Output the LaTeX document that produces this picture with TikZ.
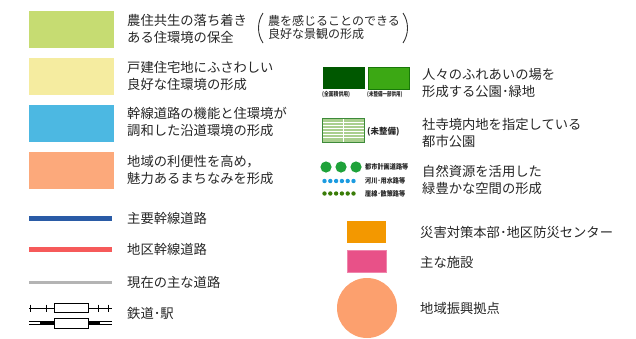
\documentclass[tikz,border=0pt]{standalone}
\usepackage{fontspec}
\setmainfont{Noto Sans CJK JP}
\usetikzlibrary{positioning}

% --- colours of the legend ---
\definecolor{farmgreen}{HTML}{C6DC72}
\definecolor{houseyellow}{HTML}{F5ECA0}
\definecolor{roadsideblue}{HTML}{4CB8E2}
\definecolor{townorange}{HTML}{FCA97B}
\definecolor{mainblue}{HTML}{2A5BA6}
\definecolor{districtred}{HTML}{F65A5A}
\definecolor{roadgray}{HTML}{B4B4B4}
\definecolor{parkdark}{HTML}{005800}
\definecolor{parklight}{HTML}{3CA814}
\definecolor{shrinegreen}{HTML}{A9CF8E}
\definecolor{shrineedge}{HTML}{3D8A3A}
\definecolor{dotgreen}{HTML}{1FA23A}
\definecolor{dotblue}{HTML}{1C9BE0}
\definecolor{dotolive}{HTML}{3A7C08}
\definecolor{hqorange}{HTML}{F39800}
\definecolor{facpink}{HTML}{E85188}
\definecolor{hubsalmon}{HTML}{FCA06E}

\tikzset{
  swatch/.style={draw=none, minimum width=85pt, minimum height=37pt, inner sep=0pt},
  smallbox/.style={draw=none, minimum width=39pt, minimum height=22pt, inner sep=0pt},
  legtext/.style={anchor=west, align=left, inner sep=0pt, text=black!85,
    font=\fontsize{13.3}{17}\selectfont},
  notetext/.style={anchor=west, inner sep=0pt, text=black!85,
    font=\fontsize{6}{7}\selectfont\bfseries},
  road/.style={line width=#1, line cap=butt},
  station/.style={draw=black, fill=white, line width=0.8pt,
    minimum width=34pt, minimum height=9pt, inner sep=0pt}
}

\begin{document}
\begin{tikzpicture}[x=1pt, y=-1pt]
\useasboundingbox (0,0) rectangle (636,338);

% ------------------ LEFT: land use areas ------------------
\node[swatch, fill=farmgreen]    (farm)     at (71.5,29.5)  {};
\node[swatch, fill=houseyellow]  (house)    at (71.5,76.5)  {};
\node[swatch, fill=roadsideblue] (roadside) at (71.5,123)   {};
\node[swatch, fill=townorange]   (town)     at (71.5,170.5) {};

\node[legtext] (farmtxt)     at (127,28.5)  {農住共生の落ち着き\\ある住環境の保全};
\node[legtext] (housetxt)    at (127,75.5)  {戸建住宅地にふさわしい\\良好な住環境の形成};
\node[legtext] (roadsidetxt) at (127,122)   {幹線道路の機能と住環境が\\調和した沿道環境の形成};
\node[legtext] (towntxt)     at (127,169.5) {地域の利便性を高め，\\魅力あるまちなみを形成};

% note in brackets beside the first area
\node[legtext, font=\fontsize{12}{13}\selectfont] (farmnote) at (268,27.5)
  {農を感じることのできる\\良好な景観の形成};
\draw[black!80, line width=0.9pt] (263,13) .. controls (257,22) and (257,34) .. (263,43);
\draw[black!80, line width=0.9pt] (403,13) .. controls (409,22) and (409,34) .. (403,43);

% ------------------ LEFT: roads and railway ------------------
\coordinate (mainA) at (29,218);  \coordinate (mainB) at (112,218);
\coordinate (distA) at (29,249);  \coordinate (distB) at (112,249);
\coordinate (grayA) at (29,282);  \coordinate (grayB) at (112,282);
\draw[road=5pt, mainblue]    (mainA) -- (mainB);
\draw[road=5pt, districtred] (distA) -- (distB);
\draw[road=3pt, roadgray]    (grayA) -- (grayB);

% railway (upper: single track with ticks, lower: double track)
\coordinate (railA) at (29,308);  \coordinate (railB) at (112,308);
\draw[line width=0.8pt] (railA) -- (railB);
\foreach \tx in {30,46,98,108}
  \draw[line width=0.8pt] (\tx,304.5) -- (\tx,311.5);
\node[station] (stationA) at (71,308) {};

\coordinate (dblA) at (29,323);  \coordinate (dblB) at (112,323);
\draw[line width=4pt] (dblA) -- (dblB);
\draw[line width=1.8pt, white] (dblA) -- (40,323);
\draw[line width=1.8pt, white] (100,323) -- (dblB);
\node[station, minimum height=10pt] (stationB) at (71,323) {};

\node[legtext] (maintxt) at (127,218) {主要幹線道路};
\node[legtext] (disttxt) at (127,249) {地区幹線道路};
\node[legtext] (graytxt) at (127,282) {現在の主な道路};
\node[legtext] (railtxt) at (127,313) {鉄道･駅};

% ------------------ RIGHT: parks and green ------------------
\node[smallbox, fill=parkdark, minimum width=42pt] (parkfull) at (344,78) {};
\node[smallbox, fill=parklight, draw=parkdark!60!parklight, line width=0.8pt,
      minimum width=41pt] (parkpart) at (388.5,78) {};
\node[notetext] (parkfullnote) at (322,95) {\scalebox{0.8}[1]{(全面積供用)}};
\node[notetext] (parkpartnote) at (367,95) {\scalebox{0.75}[1]{(未整備一部供用)}};
\node[legtext] (parktxt) at (422,83.5) {人々のふれあいの場を\\形成する公園･緑地};

% shrine park: striped box
\node[smallbox, fill=shrinegreen, minimum width=41pt, minimum height=23pt] (shrine) at (343.5,130.5) {};
\foreach \sy in {122.5,125.5,128.5,131.5,134.5,137.5}
  \draw[white, line width=0.7pt] (323,\sy) -- (364,\sy);
\draw[white, line width=0.7pt] (shrine.north) -- (shrine.south);
\draw[shrineedge, line width=1.2pt] (shrine.north west) rectangle (shrine.south east);
\node[notetext, font=\fontsize{8.5}{9}\selectfont\bfseries] (shrinenote) at (367,132) {(未整備)};
\node[legtext] (shrinetxt) at (422,132.5) {社寺境内地を指定している\\都市公園};

% green networks: dotted symbols
\foreach \dx in {326,341,356}
  \fill[dotgreen] (\dx,167) circle (5.6pt);
\foreach \i in {0,...,5} {
  \fill[dotblue]  ({324.5+5.8*\i},181) circle (2.2pt);
  \fill[dotolive] ({324.5+5.8*\i},193.5) circle (2.2pt);
}
\node[notetext, font=\fontsize{7}{8}\selectfont\bfseries] (plannote) at (365,167)
  {\scalebox{0.88}[1]{都市計画道路等}};
\node[notetext, font=\fontsize{7}{8}\selectfont\bfseries] (rivernote) at (365,181)
  {\scalebox{0.88}[1]{河川･用水路等}};
\node[notetext, font=\fontsize{7}{8}\selectfont\bfseries] (cliffnote) at (365,193.5)
  {\scalebox{0.88}[1]{崖線･散策路等}};
\node[legtext] (naturetxt) at (422,180) {自然資源を活用した\\緑豊かな空間の形成};

% ------------------ RIGHT: facilities ------------------
\node[smallbox, fill=hqorange] (hq)  at (366.5,232) {};
\node[smallbox, fill=facpink, draw=facpink!70!white, line width=0.6pt] (fac) at (366.5,261.5) {};
\node[circle, fill=hubsalmon, minimum size=60pt, inner sep=0pt] (hub) at (367,308) {};

\node[legtext] (hqtxt)  at (420,232) {災害対策本部･地区防災センター};
\node[legtext] (factxt) at (420,262) {主な施設};
\node[legtext] (hubtxt) at (420,308) {地域振興拠点};

\end{tikzpicture}
\end{document}
